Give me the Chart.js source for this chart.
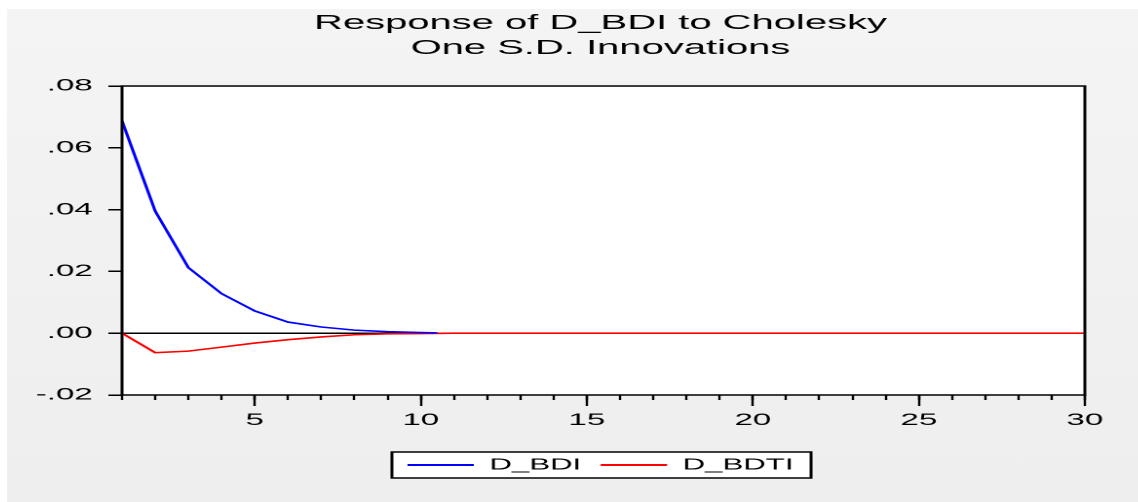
<!DOCTYPE html>
<html>
<head>
<meta charset="utf-8">
<script src="https://cdn.jsdelivr.net/npm/chart.js@4/dist/chart.umd.min.js"></script>
<style>
html,body{margin:0;padding:0;background:#fff;overflow:hidden;width:1138px;height:502px}
#panel{position:absolute;left:7px;top:9px;width:1131px;height:493px;overflow:hidden;background:linear-gradient(#f4f4f4,#eeeeee)}
#c{position:absolute;left:0;top:0}
</style>
</head>
<body>
<div id="panel"><canvas id="c" width="609" height="493" style="width:1187px;height:493px"></canvas></div>
<script>
// ---- data ----
const titleLines = ['Response of D_BDI to Cholesky', 'One S.D. Innovations'];
const periods = [1,2,3,4,5,6,7,8,9,10,11,12,13,14,15,16,17,18,19,20,21,22,23,24,25,26,27,28,29,30];
const bdiPeriods = [1,2,3,4,5,6,7,8,9,10,10.5];
const bdiValues = [0.0687,0.0395,0.0212,0.0128,0.0072,0.0036,0.0020,0.0010,0.0005,0.0002,0.0001];
const bdtiValues = [0,-0.0063,-0.0058,-0.0045,-0.0032,-0.0021,-0.0012,-0.0005,-0.0002,-0.0001,
                    0,0,0,0,0,0,0,0,0,0,0,0,0,0,0,0,0,0,0,0];
const xMajorTicks = [5,10,15,20,25,30];
const yTickValues = [-0.02,0,0.02,0.04,0.06,0.08];
const yTickLabels = ['-.02','.00','.02','.04','.06','.08'];
const seriesNames = ['D_BDI','D_BDTI'];
const seriesColors = ['#0000ff','#ff0000'];

const FONT = "'Liberation Sans', Arial, sans-serif";

const framePlugin = {
  id: 'frame',
  beforeDraw(chart) {
    const {ctx, chartArea: a} = chart;
    ctx.save();
    ctx.fillStyle = '#ffffff';
    ctx.fillRect(a.left, a.top, a.right - a.left, a.bottom - a.top);
    const lg = chart.legend;
    if (lg && lg.legendHitBoxes && lg.legendHitBoxes.length) {
      const hb = lg.legendHitBoxes;
      const l = Math.min(...hb.map(h => h.left)) - 8;
      const r = Math.max(...hb.map(h => h.left + h.width)) + 9;
      const cy = hb[0].top + hb[0].height / 2;
      ctx.fillStyle = '#ffffff';
      ctx.fillRect(l, cy - 13, r - l, 26);
      ctx.strokeStyle = '#000';
      ctx.lineWidth = 1.5;
      ctx.strokeRect(l, cy - 13, r - l, 26);
    }
    ctx.restore();
  },
  afterDatasetsDraw(chart) {
    const {ctx, chartArea: a} = chart;
    ctx.save();
    ctx.strokeStyle = '#000';
    ctx.lineWidth = 1.5;
    ctx.strokeRect(a.left, a.top, a.right - a.left, a.bottom - a.top);
    ctx.restore();
  }
};

new Chart(document.getElementById('c'), {
  type: 'line',
  data: {
    datasets: [
      {
        label: seriesNames[0],
        data: bdiPeriods.map((x, i) => ({x: x, y: bdiValues[i]})),
        borderColor: seriesColors[0], backgroundColor: seriesColors[0],
        borderWidth: 1.6, pointRadius: 0, tension: 0, xAxisID: 'x', yAxisID: 'y'
      },
      {
        label: seriesNames[1],
        data: periods.map((x, i) => ({x: x, y: bdtiValues[i]})),
        borderColor: seriesColors[1], backgroundColor: seriesColors[1],
        borderWidth: 1.6, pointRadius: 0, tension: 0, xAxisID: 'x', yAxisID: 'y'
      }
    ]
  },
  options: {
    responsive: false,
    devicePixelRatio: 2,
    animation: false,
    events: [],
    layout: {padding: {left: 0, right: 0, top: 0, bottom: 19}},
    scales: {
      x: {
        type: 'linear', position: 'bottom', weight: 1, min: 1, max: 30,
        afterBuildTicks: s => { s.ticks = xMajorTicks.map(v => ({value: v})); },
        afterFit: s => { s.height = 52; },
        grid: {drawOnChartArea: false, tickColor: '#000', tickWidth: 1.2, tickLength: 11},
        border: {display: false},
        ticks: {color: '#000', font: {family: FONT, size: 17}, padding: 4, maxRotation: 0, autoSkip: false}
      },
      xMinor: {
        type: 'linear', position: 'bottom', weight: 0, min: 1, max: 30,
        afterBuildTicks: s => { s.ticks = periods.map(v => ({value: v})); },
        afterFit: s => { s.height = 0; },
        grid: {drawOnChartArea: false, tickColor: '#000', tickWidth: 1.2, tickLength: 5},
        border: {display: false},
        ticks: {display: false}
      },
      y: {
        type: 'linear', position: 'left', min: -0.02, max: 0.08,
        afterBuildTicks: s => { s.ticks = yTickValues.map(v => ({value: v})); },
        afterFit: s => { s.width = 59; },
        grid: {
          drawOnChartArea: true,
          color: c => (c.tick && c.tick.value === 0) ? '#000' : 'rgba(0,0,0,0)',
          lineWidth: 1.5,
          tickColor: '#000', tickWidth: 1.5, tickLength: 7
        },
        border: {display: false},
        ticks: {
          color: '#000', font: {family: FONT, size: 17}, padding: 8,
          callback: (v, i) => yTickLabels[i]
        }
      },
      y2: {
        type: 'linear', position: 'right', min: -0.02, max: 0.08, display: true,
        afterFit: s => { s.width = 56; },
        grid: {display: false}, border: {display: false}, ticks: {display: false}
      }
    },
    plugins: {
      title: {
        display: true, text: titleLines, color: '#000',
        font: {family: FONT, size: 20.5, weight: 'normal', lineHeight: 1.22},
        padding: {top: 2, bottom: 25}
      },
      legend: {
        display: true, position: 'bottom',
        labels: {
          color: '#000', font: {family: FONT, size: 16},
          boxWidth: 34, boxHeight: 2, padding: 10,
          generateLabels: chart => Chart.defaults.plugins.legend.labels.generateLabels(chart).map(l => {
            l.lineWidth = 0; l.fillStyle = l.strokeStyle; return l;
          })
        }
      },
      tooltip: {enabled: false}
    }
  },
  plugins: [framePlugin]
});
</script>
</body>
</html>
